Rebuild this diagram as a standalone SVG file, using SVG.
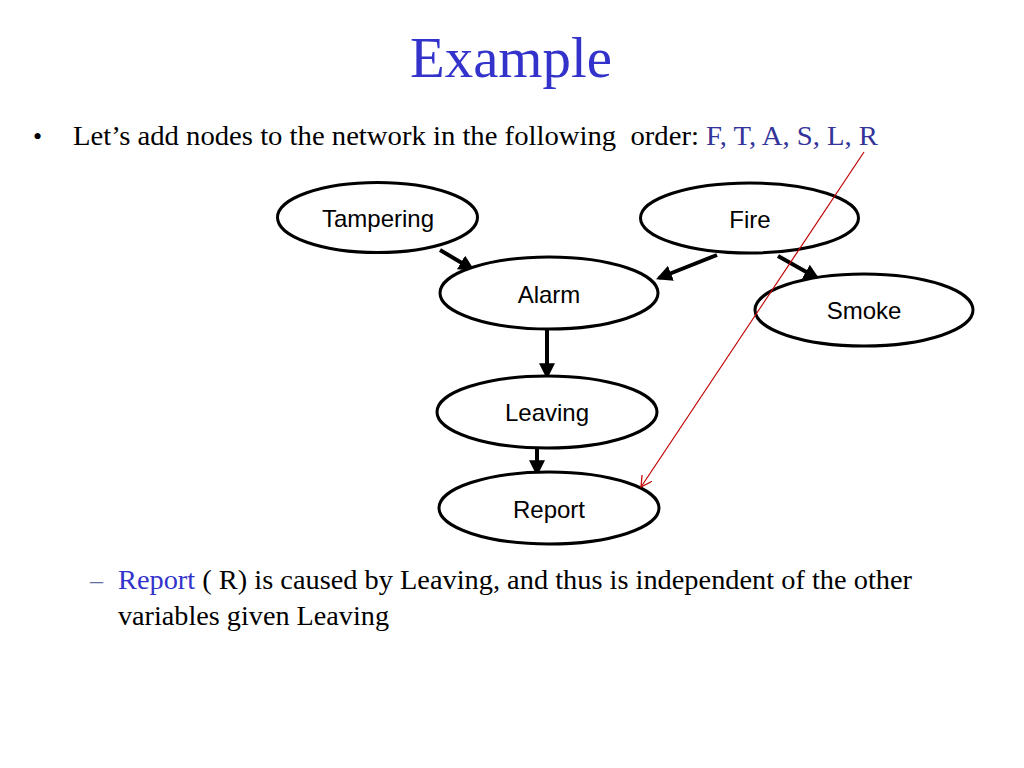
<svg xmlns="http://www.w3.org/2000/svg" width="1024" height="768" viewBox="0 0 1024 768">
<style>
.node ellipse{fill:#fff;stroke:#000;stroke-width:3}
.node text{font-family:"Liberation Sans",Arial,sans-serif;font-size:24px;text-anchor:middle;fill:#000}
.edge{stroke:#000;stroke-width:4;fill:none;marker-end:url(#ah)}
.serif{font-family:"Liberation Serif","Times New Roman",serif}
</style>
<defs>
<marker id="ah" viewBox="0 0 10 10" refX="8" refY="5" markerWidth="4" markerHeight="4" orient="auto" markerUnits="strokeWidth">
<path d="M0,0 L10,5 L0,10 z" fill="#000"/>
</marker>
<marker id="ra" viewBox="0 0 12 12" refX="11" refY="6" markerWidth="12" markerHeight="12" orient="auto" markerUnits="userSpaceOnUse">
<path d="M0,0 L11,6 L0,12" fill="none" stroke="#c00000" stroke-width="1.2"/>
</marker>
</defs>
<rect width="1024" height="768" fill="#fff"/>
<text class="serif" x="511" y="77" font-size="58" fill="#3333cc" text-anchor="middle" textLength="202" lengthAdjust="spacingAndGlyphs">Example</text>
<text class="serif" x="33" y="145" font-size="26" fill="#000">•</text>
<text class="serif" x="73" y="145" font-size="28" fill="#000" textLength="805" lengthAdjust="spacingAndGlyphs" xml:space="preserve">Let’s add nodes to the network in the following  order: <tspan fill="#333399">F, T, A, S, L, R</tspan></text>
<text class="serif" x="90" y="589" font-size="26" fill="#6670a0">–</text>
<text class="serif" x="118" y="589" font-size="28" fill="#000" textLength="794" lengthAdjust="spacingAndGlyphs"><tspan fill="#3333cc">Report</tspan> ( R) is caused by Leaving, and thus is independent of the other</text>
<text class="serif" x="118" y="625" font-size="28" fill="#000" textLength="271" lengthAdjust="spacingAndGlyphs">variables given Leaving</text>
<g id="connectors">
<line class="edge" x1="440" y1="250" x2="472" y2="269"/>
<line class="edge" x1="717" y1="255" x2="659" y2="278"/>
<line class="edge" x1="778" y1="256" x2="817" y2="278"/>
<line class="edge" x1="547" y1="330" x2="547" y2="376"/>
<line class="edge" x1="537" y1="449" x2="537" y2="473"/>
</g>
<g id="n-tampering" class="node"><ellipse cx="377.5" cy="217.5" rx="100" ry="35"/><text x="378" y="227">Tampering</text></g>
<g id="n-fire" class="node"><ellipse cx="749.5" cy="218" rx="109" ry="35"/><text x="750" y="228">Fire</text></g>
<g id="n-alarm" class="node"><ellipse cx="549" cy="293" rx="109" ry="36"/><text x="549" y="303">Alarm</text></g>
<g id="n-smoke" class="node"><ellipse cx="864" cy="310" rx="109" ry="36"/><text x="864" y="319">Smoke</text></g>
<g id="n-leaving" class="node"><ellipse cx="547" cy="412" rx="110" ry="36"/><text x="547" y="421">Leaving</text></g>
<g id="n-report" class="node"><ellipse cx="549" cy="508" rx="110" ry="36"/><text x="549" y="518">Report</text></g>
<g id="red-arrow">
<line x1="864" y1="152" x2="641" y2="487" stroke="#c00000" stroke-width="1.2" marker-end="url(#ra)"/>
</g>
</svg>
